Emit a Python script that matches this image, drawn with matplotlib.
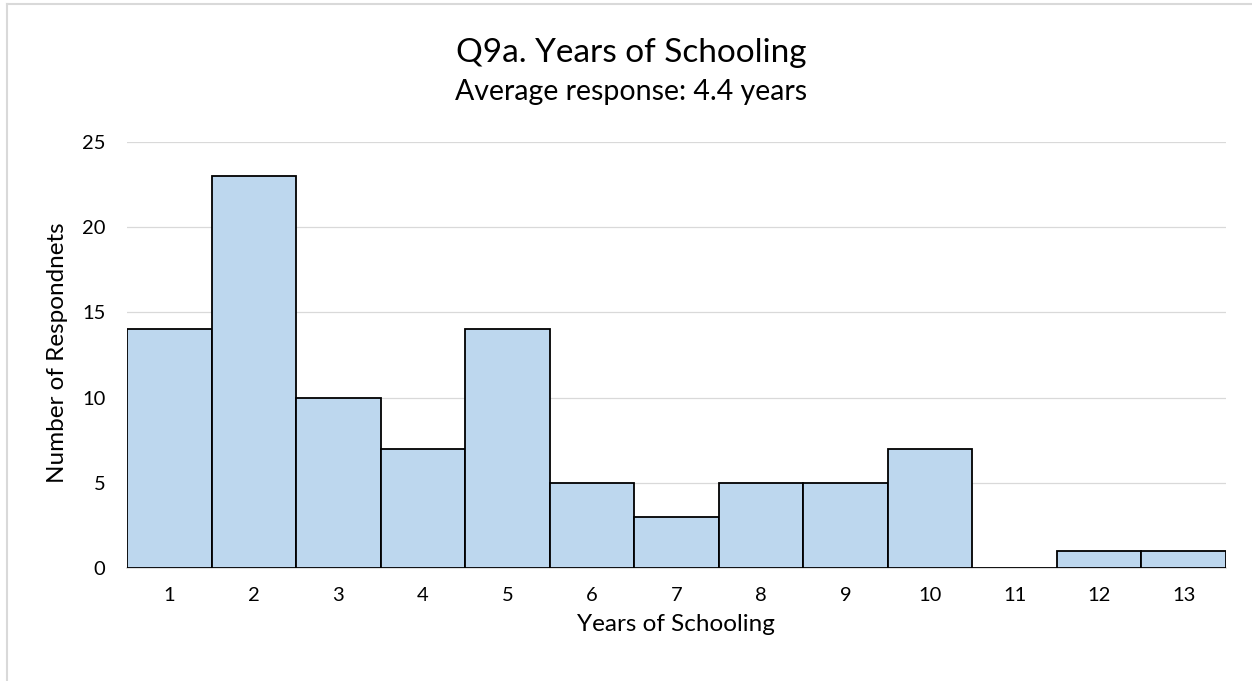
import matplotlib.pyplot as plt
from matplotlib.lines import Line2D

# Data
years = ['1', '2', '3', '4', '5', '6', '7', '8', '9', '10', '11', '12', '13']
counts = [14, 23, 10, 7, 14, 5, 3, 5, 5, 7, 0, 1, 1]
title = 'Q9a. Years of Schooling'
subtitle = 'Average response: 4.4 years'

plt.rcParams['font.family'] = ['Lato', 'DejaVu Sans']

W, H = 1252, 681
fig = plt.figure(figsize=(W / 100, H / 100), dpi=100)
ax = fig.add_axes([127 / W, 1 - 568 / H, (1226 - 127) / W, (568 - 142) / H])

x = list(range(1, len(years) + 1))
ax.bar(x, counts, width=1.0, color='#BDD7EE', edgecolor='black', linewidth=1.3, zorder=3)

ax.set_xlim(0.5, len(years) + 0.5)
ax.set_ylim(0, 25)
ax.set_yticks([0, 5, 10, 15, 20, 25])
ax.set_xticks(x)
ax.set_xticklabels(years)
ax.tick_params(length=0, labelsize=14.5, colors='#000000')
ax.tick_params(axis='x', pad=14)
ax.tick_params(axis='y', pad=15.5)
ax.grid(axis='y', color='#d9d9d9', linewidth=0.9, zorder=0)
for s in ['top', 'right', 'left']:
    ax.spines[s].set_visible(False)
ax.spines['bottom'].set_color('#d9d9d9')
ax.spines['bottom'].set_linewidth(1.2)

# axis titles
fig.text(675.5 / W, 1 - 631 / H, 'Years of Schooling', ha='center', va='baseline', fontsize=17.5)
fig.text(57.5 / W, 1 - 353 / H, 'Number of Respondnets', ha='center', va='center',
         rotation=90, fontsize=17.5)

# chart title and subtitle, centred on the chart area
fig.text(631 / W, 1 - 62 / H, title, ha='center', va='baseline', fontsize=24)
fig.text(631 / W, 1 - 100 / H, subtitle, ha='center', va='baseline', fontsize=20.5)

# chart frame edges visible in the reference
fig.add_artist(Line2D([7 / W, 7 / W], [0, 1 - 4 / H], transform=fig.transFigure, color='#d9d9d9', linewidth=1.5))
fig.add_artist(Line2D([7 / W, 1], [1 - 4 / H, 1 - 4 / H], transform=fig.transFigure, color='#d9d9d9', linewidth=1.5))

fig.savefig('out.png', dpi=100)
